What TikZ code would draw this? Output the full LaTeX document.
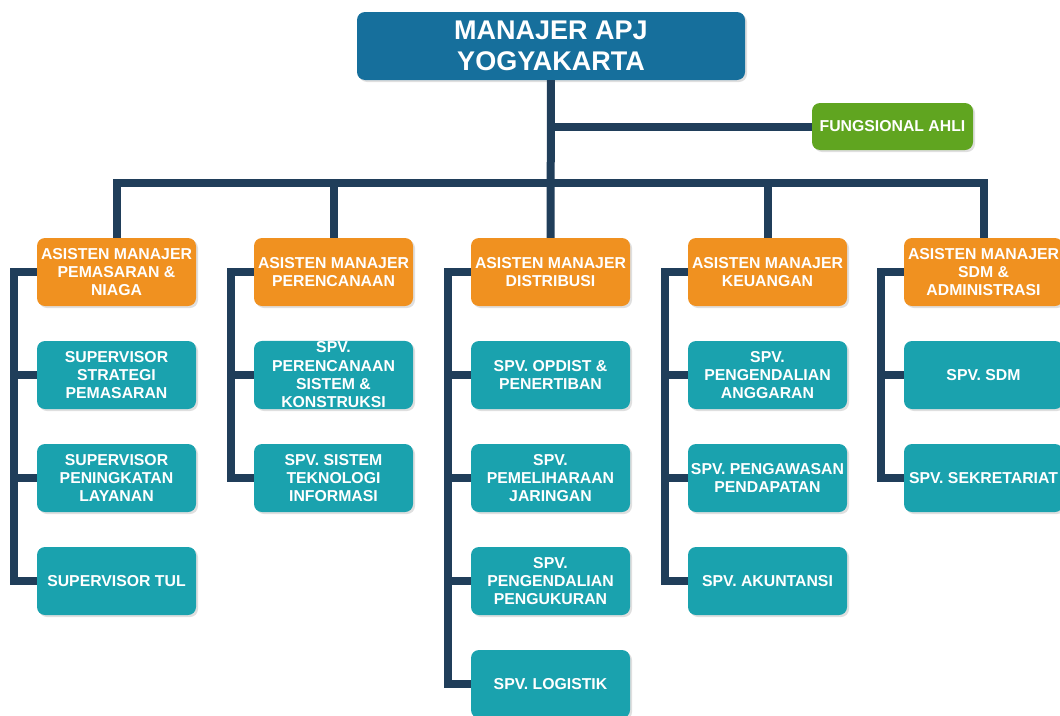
\documentclass[tikz,border=0pt]{standalone}
\usepackage{fontspec}
\setmainfont{Liberation Sans}
\usetikzlibrary{calc,shadows}
\definecolor{apjblue}{RGB}{22,111,156}
\definecolor{apjorange}{RGB}{240,145,32}
\definecolor{apjteal}{RGB}{26,162,174}
\definecolor{apjgreen}{RGB}{96,165,32}
\definecolor{apjnavy}{RGB}{32,62,90}
\begin{document}
\begin{tikzpicture}[x=1pt,y=-1pt,
  box/.style={rounded corners=8pt,minimum width=159pt,minimum height=68pt,inner sep=1pt,
    align=center,text=white,font=\bfseries\fontsize{15.8}{18.3}\selectfont,
    drop shadow={shadow xshift=2pt,shadow yshift=-2pt,opacity=0.25}},
  asman/.style={box,fill=apjorange},
  spv/.style={box,fill=apjteal},
  link/.style={draw=apjnavy,line width=8pt}]
\useasboundingbox (0,0) rectangle (1060,715);
\node[box,fill=apjblue,minimum width=388pt,font=\bfseries\fontsize{27}{31}\selectfont] (apj) at (551,46) {MANAJER APJ\\YOGYAKARTA};
\node[box,fill=apjgreen,minimum width=161pt,minimum height=47pt] (fung) at (892.5,126.5) {FUNGSIONAL AHLI};
\coordinate (bus) at (551,183);
\foreach \c/\x/\t in {1/116.5/{ASISTEN MANAJER\\PEMASARAN \&\\NIAGA},2/333.5/{ASISTEN MANAJER\\PERENCANAAN},
  3/550.5/{ASISTEN MANAJER\\DISTRIBUSI},4/767.5/{ASISTEN MANAJER\\KEUANGAN},5/983.5/{ASISTEN MANAJER\\SDM \&\\ADMINISTRASI}}{
  \node[asman] (am\c) at (\x,272) {\t};
}
\foreach \c/\r/\t in {1/1/{SUPERVISOR\\STRATEGI\\PEMASARAN},1/2/{SUPERVISOR\\PENINGKATAN\\LAYANAN},1/3/{SUPERVISOR TUL},
  2/1/{SPV.\\PERENCANAAN\\SISTEM \&\\KONSTRUKSI},2/2/{SPV. SISTEM\\TEKNOLOGI\\INFORMASI},
  3/1/{SPV. OPDIST \&\\PENERTIBAN},3/2/{SPV.\\PEMELIHARAAN\\JARINGAN},3/3/{SPV.\\PENGENDALIAN\\PENGUKURAN},3/4/{SPV. LOGISTIK},
  4/1/{SPV.\\PENGENDALIAN\\ANGGARAN},4/2/{SPV. PENGAWASAN\\PENDAPATAN},4/3/{SPV. AKUNTANSI},
  5/1/{SPV. SDM},5/2/{SPV. SEKRETARIAT}}{
  \node[spv] (spv\c\r) at ($(am\c)+(0,103*\r)$) {\t};
}
\draw[link] (apj) -- (am3);
\draw[link] (fung.west) -- (fung.west -| apj.south);
\foreach \c in {1,2,4,5}{
  \draw[link] (am\c.north) |- (bus);
}
\foreach \c/\n in {1/3,2/2,3/4,4/3,5/2}{
  \draw[link] (am\c.west) -- ++(-23,0) |- (spv\c\n.west);
  \foreach \r in {1,...,\n}{
    \draw[link] (spv\c\r.west) -- ++(-23,0);
  }
}
\end{tikzpicture}
\end{document}
